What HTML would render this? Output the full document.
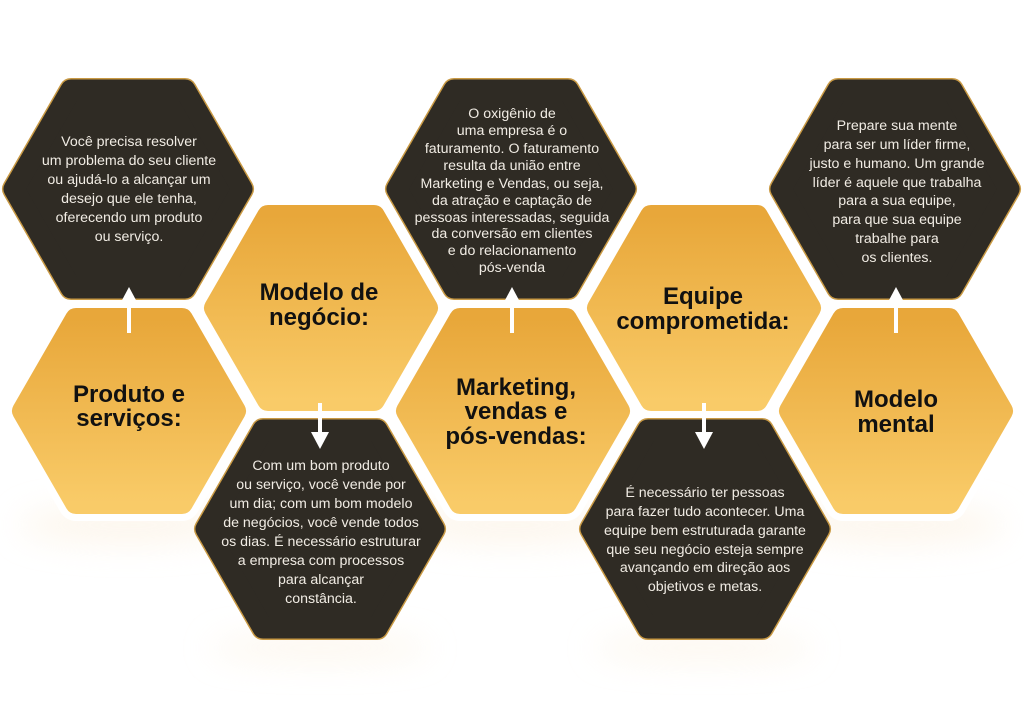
<!DOCTYPE html>
<html><head><meta charset="utf-8"><style>
html,body{margin:0;padding:0;background:#fff;}
svg{display:block;}
.d{font-family:"Liberation Sans",sans-serif;font-size:14.2px;fill:#f1ece4;text-anchor:middle;}
.t{font-family:"Liberation Sans",sans-serif;font-size:24px;font-weight:bold;fill:#111;text-anchor:middle;}
</style></head><body>
<svg width="1024" height="727" viewBox="0 0 1024 727" xmlns="http://www.w3.org/2000/svg">
<defs>
<linearGradient id="g" x1="0" y1="0" x2="0" y2="1">
<stop offset="0" stop-color="#e8a73a"/><stop offset="1" stop-color="#f9cb68"/>
</linearGradient>
<filter id="b" x="-50%" y="-50%" width="200%" height="200%"><feGaussianBlur stdDeviation="16"/></filter>
<g id="dk">
<polygon points="68,11 182,11 239,110 182,209 68,209 11,110" fill="#c99a45" stroke="#c99a45" stroke-width="24" stroke-linejoin="round"/>
<polygon points="68,11 182,11 239,110 182,209 68,209 11,110" fill="#2f2b24" stroke="#2f2b24" stroke-width="21" stroke-linejoin="round"/>
</g>
<g id="gd">
<polygon points="64,11 170,11 223,103 170,195 64,195 11,103" fill="#fff" stroke="#fff" stroke-width="36" stroke-linejoin="round"/>
<polygon points="64,11 170,11 223,103 170,195 64,195 11,103" fill="url(#g)" stroke="url(#g)" stroke-width="22" stroke-linejoin="round"/>
</g>
</defs>
<rect width="1024" height="727" fill="#fff"/>
<g filter="url(#b)" fill="#fbf0df" opacity="0.6">
<ellipse cx="129" cy="525" rx="110" ry="18"/>
<ellipse cx="513" cy="525" rx="110" ry="18"/>
<ellipse cx="896" cy="525" rx="110" ry="18"/>
<ellipse cx="320" cy="648" rx="110" ry="12"/>
<ellipse cx="704" cy="648" rx="110" ry="12"/>
</g>
<use href="#dk" x="3" y="79"/>
<use href="#dk" x="195" y="419"/>
<use href="#dk" x="386" y="79"/>
<use href="#dk" x="580" y="419"/>
<use href="#dk" x="770" y="79"/>
<use href="#gd" x="12" y="308"/>
<use href="#gd" x="204" y="205"/>
<use href="#gd" x="396" y="308"/>
<use href="#gd" x="587" y="205"/>
<use href="#gd" x="779" y="308"/>

<g fill="#fff" stroke="#fff">
<line x1="129" y1="333" x2="129" y2="300" stroke-width="4"/><polygon points="129,287 121,302 137,302" stroke="none"/>
<line x1="512" y1="333" x2="512" y2="300" stroke-width="4"/><polygon points="512,287 504,302 520,302" stroke="none"/>
<line x1="896" y1="333" x2="896" y2="300" stroke-width="4"/><polygon points="896,287 888,302 904,302" stroke="none"/>
<line x1="320" y1="403" x2="320" y2="435" stroke-width="4"/><polygon points="320,449 311,432 329,432" stroke="none"/>
<line x1="704" y1="403" x2="704" y2="435" stroke-width="4"/><polygon points="704,449 695,432 713,432" stroke="none"/>
</g>

<g class="d">
<text x="129" y="146">Você precisa resolver</text>
<text x="129" y="165">um problema do seu cliente</text>
<text x="129" y="184">ou ajudá-lo a alcançar um</text>
<text x="129" y="203">desejo que ele tenha,</text>
<text x="129" y="222">oferecendo um produto</text>
<text x="129" y="241">ou serviço.</text>

<text x="512" y="118">O oxigênio de</text>
<text x="512" y="135">uma empresa é o</text>
<text x="512" y="153">faturamento. O faturamento</text>
<text x="512" y="170">resulta da união entre</text>
<text x="512" y="188">Marketing e Vendas, ou seja,</text>
<text x="512" y="205">da atração e captação de</text>
<text x="512" y="222">pessoas interessadas, seguida</text>
<text x="512" y="238">da conversão em clientes</text>
<text x="512" y="255">e do relacionamento</text>
<text x="512" y="272">pós-venda</text>

<text x="897" y="130">Prepare sua mente</text>
<text x="897" y="149">para ser um líder firme,</text>
<text x="897" y="168">justo e humano. Um grande</text>
<text x="897" y="187">líder é aquele que trabalha</text>
<text x="897" y="205">para a sua equipe,</text>
<text x="897" y="224">para que sua equipe</text>
<text x="897" y="243">trabalhe para</text>
<text x="897" y="262">os clientes.</text>

<text x="321" y="470">Com um bom produto</text>
<text x="321" y="489">ou serviço, você vende por</text>
<text x="321" y="508">um dia; com um bom modelo</text>
<text x="321" y="527">de negócios, você vende todos</text>
<text x="321" y="546">os dias. É necessário estruturar</text>
<text x="321" y="565">a empresa com processos</text>
<text x="321" y="584">para alcançar</text>
<text x="321" y="603">constância.</text>

<text x="705" y="497">É necessário ter pessoas</text>
<text x="705" y="516">para fazer tudo acontecer. Uma</text>
<text x="705" y="535">equipe bem estruturada garante</text>
<text x="705" y="554">que seu negócio esteja sempre</text>
<text x="705" y="572">avançando em direção aos</text>
<text x="705" y="591">objetivos e metas.</text>
</g>

<g class="t">
<text x="129" y="402">Produto e</text>
<text x="129" y="426">serviços:</text>
<text x="319" y="300">Modelo de</text>
<text x="319" y="325">negócio:</text>
<text x="516" y="395">Marketing,</text>
<text x="516" y="419">vendas e</text>
<text x="516" y="444">pós-vendas:</text>
<text x="703" y="304">Equipe</text>
<text x="703" y="329">comprometida:</text>
<text x="896" y="407">Modelo</text>
<text x="896" y="432">mental</text>
</g>
</svg>
</body></html>
